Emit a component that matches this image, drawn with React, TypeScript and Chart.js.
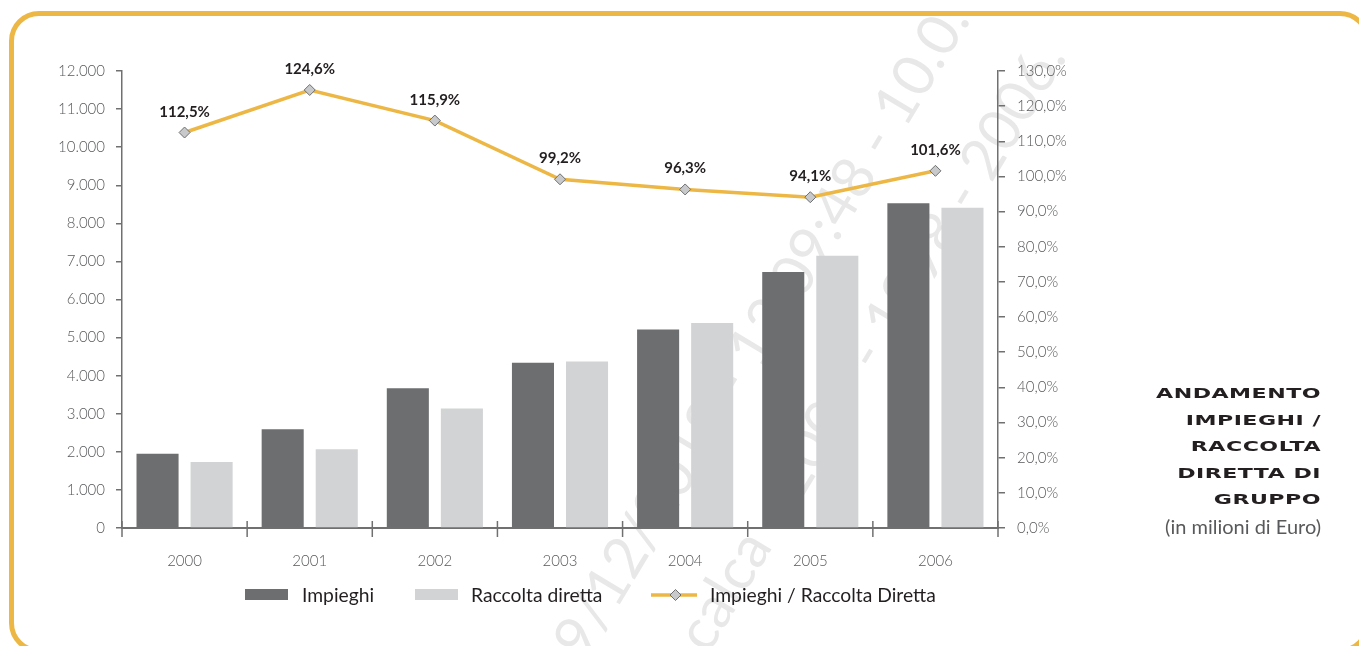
import React, { useEffect, useRef } from "react";
import { Chart, registerables } from "chart.js";

Chart.register(...registerables);

// ---- data ----
const years = ["2000", "2001", "2002", "2003", "2004", "2005", "2006"];
const impieghi = [1950, 2590, 3670, 4340, 5210, 6720, 8530];
const raccoltaDiretta = [1730, 2070, 3140, 4370, 5380, 7150, 8410];
const rapporto = [112.5, 124.6, 115.9, 99.2, 96.3, 94.1, 101.6];
const seriesNames = ["Impieghi", "Raccolta diretta", "Impieghi / Raccolta Diretta"];
const titleLines = ["ANDAMENTO", "IMPIEGHI /", "RACCOLTA", "DIRETTA DI", "GRUPPO"];
const subtitle = "(in milioni di Euro)";
const watermarkLines = ["9/12/2018 - 12:09:48 - 10.0.", "calca - 2007 - 1998 - 2006."];

// ---- styles ----
const YELLOW = "#EDB746";
const DARK = "#6D6E70";
const LIGHT = "#D1D3D4";
const AXIS = "#707070";
const TICK_TEXT = "#58595B";
const INK = "#231F20";
const FONT = "Lato, 'Open Sans', sans-serif";
const WIDE_FONT = "'DejaVu Sans', 'Liberation Sans', Arial, sans-serif";

const fmtThousands = (v: number) => String(v).replace(/\B(?=(\d{3})+(?!\d))/g, ".");
const fmtPct = (v: number, d: number) => v.toFixed(d).replace(".", ",") + "%";

// tick marks on the category axis that cross the axis line
const crossTicks = {
  id: "crossTicks",
  afterDraw(chart: any) {
    const x = chart.scales.x;
    const { ctx, chartArea } = chart;
    const n = chart.data.labels.length;
    const step = x.getPixelForValue(1) - x.getPixelForValue(0);
    ctx.save();
    ctx.strokeStyle = AXIS;
    ctx.lineWidth = 1.5;
    for (let i = 0; i <= n; i++) {
      const px = x.getPixelForValue(0) - step / 2 + i * step;
      ctx.beginPath();
      ctx.moveTo(px, chartArea.bottom - 7);
      ctx.lineTo(px, chartArea.bottom + 9);
      ctx.stroke();
    }
    ctx.restore();
  },
};

// percentage labels above the ratio line points
const pointLabels = {
  id: "pointLabels",
  afterDatasetsDraw(chart: any) {
    const idx = chart.data.datasets.findIndex((d: any) => d.yAxisID === "y1");
    if (idx < 0) return;
    const meta = chart.getDatasetMeta(idx);
    const values = chart.data.datasets[idx].data as number[];
    const { ctx } = chart;
    ctx.save();
    ctx.font = `700 15px ${FONT}`;
    ctx.fillStyle = INK;
    ctx.textAlign = "center";
    ctx.textBaseline = "alphabetic";
    meta.data.forEach((pt: any, i: number) => {
      ctx.fillText(fmtPct(values[i], 1), pt.x, pt.y - 16);
    });
    ctx.restore();
  },
};

function ComboChart() {
  const ref = useRef<HTMLCanvasElement | null>(null);
  useEffect(() => {
    if (!ref.current) return;
    const tickFont = { family: FONT, size: 15, weight: "300" as any };
    const chart = new Chart(ref.current, {
      type: "bar",
      data: {
        labels: years,
        datasets: [
          {
            type: "line",
            label: seriesNames[2],
            data: rapporto,
            yAxisID: "y1",
            borderColor: YELLOW,
            borderWidth: 3.5,
            pointStyle: "rectRot",
            pointRadius: 5.5,
            pointBackgroundColor: "#C8C9CA",
            pointBorderColor: DARK,
            pointBorderWidth: 1,
            tension: 0,
            order: 0,
          } as any,
          {
            type: "bar",
            label: seriesNames[0],
            data: impieghi,
            yAxisID: "y",
            backgroundColor: DARK,
            categoryPercentage: 0.864,
            barPercentage: 0.778,
            order: 1,
          },
          {
            type: "bar",
            label: seriesNames[1],
            data: raccoltaDiretta,
            yAxisID: "y",
            backgroundColor: LIGHT,
            categoryPercentage: 0.864,
            barPercentage: 0.778,
            order: 2,
          },
        ],
      },
      options: {
        responsive: false,
        devicePixelRatio: 1,
        animation: false,
        layout: { padding: { top: 71, left: 0, right: 0, bottom: 0 } },
        plugins: { legend: { display: false }, tooltip: { enabled: false } },
        scales: {
          x: {
            type: "category",
            offset: true,
            grid: { display: false },
            border: { display: true, color: AXIS, width: 2 },
            ticks: { font: tickFont, color: TICK_TEXT, padding: 16, maxRotation: 0 },
            afterFit: (s: any) => {
              s.height = 118;
            },
          },
          y: {
            position: "left",
            min: 0,
            max: 12000,
            ticks: {
              stepSize: 1000,
              font: tickFont,
              color: TICK_TEXT,
              padding: 11,
              callback: (v: any) => fmtThousands(Number(v)),
            },
            grid: { drawOnChartArea: false, tickLength: 6, color: AXIS, lineWidth: 1.5 },
            border: { display: true, color: AXIS, width: 1.5 },
            afterFit: (s: any) => {
              s.width = 122;
            },
          },
          y1: {
            position: "right",
            min: 0,
            max: 130,
            ticks: {
              stepSize: 10,
              font: tickFont,
              color: TICK_TEXT,
              padding: 12,
              callback: (v: any) => fmtPct(Number(v), 1),
            },
            grid: { drawOnChartArea: false, tickLength: 7, color: AXIS, lineWidth: 1.5 },
            border: { display: true, color: AXIS, width: 1.5 },
            afterFit: (s: any) => {
              s.width = 361;
            },
          },
        },
      },
      plugins: [crossTicks, pointLabels],
    });
    return () => chart.destroy();
  }, []);
  return (
    <canvas
      ref={ref}
      width={1359}
      height={646}
      style={{ position: "absolute", left: 0, top: 0, width: 1359, height: 646, display: "block" }}
    />
  );
}

function Legend() {
  const text: React.CSSProperties = {
    position: "absolute",
    top: 583,
    height: 24,
    lineHeight: "24px",
    font: `400 19.3px ${FONT}`,
    color: INK,
    whiteSpace: "nowrap",
  };
  const box = (left: number, color: string): React.CSSProperties => ({
    position: "absolute",
    left,
    top: 589,
    width: 43,
    height: 11,
    background: color,
  });
  return (
    <>
      <div style={box(245, DARK)} />
      <div style={{ ...text, left: 302 }}>{seriesNames[0]}</div>
      <div style={box(415, LIGHT)} />
      <div style={{ ...text, left: 471 }}>{seriesNames[1]}</div>
      <svg style={{ position: "absolute", left: 651, top: 585 }} width={47} height={20}>
        <line x1={0} y1={10} x2={46} y2={10} stroke={YELLOW} strokeWidth={3.5} />
        <polygon points="24.5,4.5 30,10 24.5,15.5 19,10" fill="#C8C9CA" stroke={DARK} strokeWidth={1} />
      </svg>
      <div style={{ ...text, left: 710 }}>{seriesNames[2]}</div>
    </>
  );
}

function SideTitle() {
  return (
    <div style={{ position: "absolute", left: 1000, width: 321, top: 380 }}>
      {titleLines.map((t) => (
        <div
          key={t}
          style={{
            height: 26.6,
            lineHeight: "26.6px",
            textAlign: "right",
            fontFamily: WIDE_FONT,
            fontWeight: 700,
            fontSize: 14,
            letterSpacing: "0.3px",
            color: INK,
            whiteSpace: "nowrap",
            transform: "scaleX(1.58)",
            transformOrigin: "100% 50%",
          }}
        >
          {t}
        </div>
      ))}
      <div
        style={{
          height: 26,
          lineHeight: "26px",
          marginTop: 1,
          textAlign: "right",
          font: `400 20px ${FONT}`,
          color: "#58595B",
          whiteSpace: "nowrap",
        }}
      >
        {subtitle}
      </div>
    </div>
  );
}

function Watermark() {
  const anchors = [
    { x: 562, y: 648 },
    { x: 685, y: 641 },
  ];
  return (
    <>
      {watermarkLines.map((t, i) => (
        <div
          key={t}
          style={{
            position: "absolute",
            left: anchors[i].x,
            top: anchors[i].y - 30,
            height: 60,
            lineHeight: "60px",
            font: `400 58px ${FONT}`,
            color: "#E8E8E8",
            whiteSpace: "nowrap",
            transform: "rotate(-59deg)",
            transformOrigin: "0 50%",
          }}
        >
          {t}
        </div>
      ))}
    </>
  );
}

export default function App() {
  return (
    <div
      style={{
        position: "absolute",
        left: 0,
        top: 0,
        width: 1359,
        height: 646,
        overflow: "hidden",
        background: "#fff",
      }}
    >
      <div
        style={{
          position: "absolute",
          left: 9,
          top: 11,
          width: 1361,
          height: 642,
          boxSizing: "border-box",
          border: `5px solid ${YELLOW}`,
          borderRadius: 30,
        }}
      />
      <Watermark />
      <ComboChart />
      <Legend />
      <SideTitle />
    </div>
  );
}
